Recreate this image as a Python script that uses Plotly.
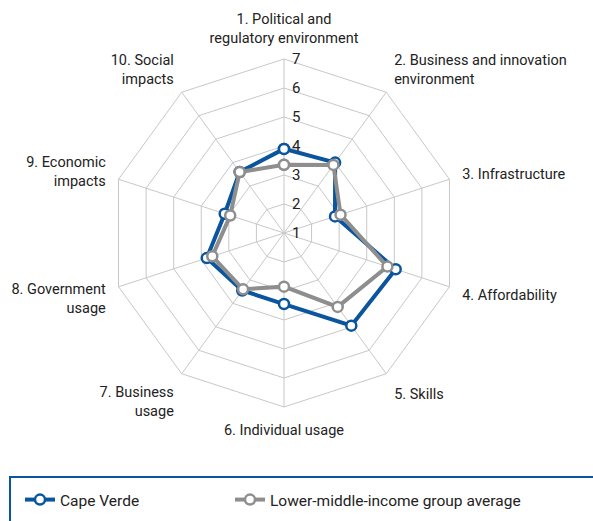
import plotly.graph_objects as go

categories = [
    "1. Political and<br>regulatory environment",
    "2. Business and innovation<br>environment",
    "3. Infrastructure",
    "4. Affordability",
    "5. Skills",
    "6. Individual usage",
    "7. Business<br>usage",
    "8. Government<br>usage",
    "9. Economic<br>impacts",
    "10. Social<br>impacts",
]
cape_verde = [3.9, 4.0, 2.85, 5.05, 4.95, 3.45, 3.45, 3.8, 3.15, 3.6]
lmi_avg = [3.35, 3.9, 3.05, 4.75, 4.15, 2.85, 3.4, 3.6, 2.95, 3.6]
radial_ticks = [1, 2, 3, 4, 5, 6, 7]

BLUE = "#0B559E"
GRAY = "#8E8E8E"
FONT = "Roboto, sans-serif"

fig = go.Figure()
for name, vals, col, lg in [("Cape Verde", cape_verde, BLUE, "legend"),
                            ("Lower-middle-income group average", lmi_avg, GRAY, "legend2")]:
    fig.add_trace(go.Scatterpolar(
        r=vals + [vals[0]],
        theta=categories + [categories[0]],
        mode="lines+markers",
        name=name,
        legend=lg,
        showlegend=True,
        line=dict(color=col, width=4),
        marker=dict(symbol="circle", size=10, color="white",
                    line=dict(color=col, width=2.5)),
    ))

legend_common = dict(orientation="h", y=1-500/521, xanchor="left", yanchor="middle",
                     font=dict(size=15.5, color="#222222"), bgcolor="rgba(0,0,0,0)")

fig.update_layout(
    width=593, height=521,
    showlegend=True,
    margin=dict(l=0, r=0, t=0, b=0),
    paper_bgcolor="white",
    font=dict(family=FONT, size=14.5, color="#222222"),
    polar=dict(
        domain=dict(x=[0.1855, 0.7723], y=[0.2188, 0.8868]),
        bgcolor="white",
        gridshape="linear",
        radialaxis=dict(
            range=[1, 7], tickvals=radial_ticks,
            ticktext=["\u00a0\u00a0" + str(t) for t in radial_ticks],
            showline=False, ticks="",
            gridcolor="#C8C8C8", gridwidth=1, angle=90, side="clockwise",
            tickangle=90,
            tickfont=dict(size=15, color="#222222"),
        ),
        angularaxis=dict(
            direction="clockwise", rotation=90,
            ticks="outside", ticklen=10, tickcolor="rgba(0,0,0,0)",
            gridcolor="#C8C8C8", linecolor="#C8C8C8", linewidth=1,
            tickfont=dict(size=14.5, color="#222222"),
        ),
    ),
    legend=dict(x=20/593, **legend_common),
    legend2=dict(x=230/593, **legend_common),
    shapes=[dict(type="rect", xref="paper", yref="paper",
                 x0=10/593, x1=1.02, y0=-0.02, y1=1-477/521,
                 line=dict(color=BLUE, width=2))],
)

fig.write_html("out.html", config={"displayModeBar": False},
               post_script="document.body.style.margin='0';")
